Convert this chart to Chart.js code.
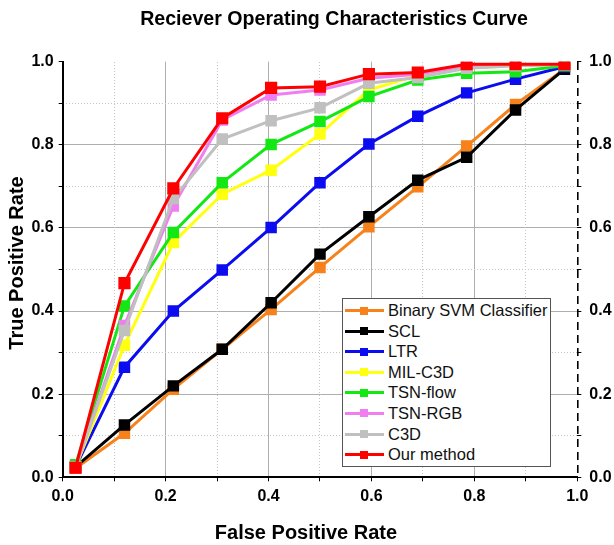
<!DOCTYPE html>
<html>
<head>
<meta charset="utf-8">
<script src="https://cdn.jsdelivr.net/npm/chart.js@4.4.1/dist/chart.umd.min.js"></script>
<style>
  html, body { margin: 0; padding: 0; background: #fff; }
  #wrap { position: relative; width: 614px; height: 545px; }
  #c { position: absolute; left: 0; top: 0; }
  #legend {
    position: absolute; left: 342px; top: 298px; width: 207px; height: 166px;
    border: 1px solid #555; background: #fff; box-sizing: content-box;
    font-family: "Liberation Sans", Arial, sans-serif; font-size: 16.5px; color: #111;
    padding-top: 1px;
  }
  .row { position: relative; height: 20.6px; line-height: 20.6px; }
  .row .ln { position: absolute; left: 1.5px; width: 39px; height: 3px; top: 9px; }
  .row .mk { position: absolute; left: 16.5px; width: 8px; height: 8px; top: 6.5px; }
  .row .tx { position: absolute; left: 45px; top: 0; white-space: nowrap; }
</style>
</head>
<body>
<div id="wrap">
  <canvas id="c" width="614" height="545"></canvas>
  <div id="legend"></div>
</div>
<script>
// ---- data ----
const fpr = [0.025, 0.12, 0.215, 0.31, 0.405, 0.5, 0.595, 0.69, 0.785, 0.88, 0.975];
const seriesNames = ["Binary SVM Classifier", "SCL", "LTR", "MIL-C3D", "TSN-flow", "TSN-RGB", "C3D", "Our method"];
const svmTPR  = [0.022, 0.106, 0.212, 0.308, 0.404, 0.505, 0.603, 0.699, 0.797, 0.897, 0.982];
const sclTPR  = [0.025, 0.126, 0.220, 0.308, 0.420, 0.537, 0.627, 0.715, 0.770, 0.884, 0.982];
const ltrTPR  = [0.025, 0.265, 0.400, 0.499, 0.601, 0.709, 0.802, 0.869, 0.925, 0.958, 0.988];
const milTPR  = [0.025, 0.318, 0.565, 0.681, 0.739, 0.826, 0.932, 0.967, 0.985, 0.990, 0.993];
const flowTPR = [0.030, 0.412, 0.589, 0.709, 0.801, 0.856, 0.916, 0.956, 0.972, 0.976, 0.990];
const rgbTPR  = [0.025, 0.365, 0.653, 0.860, 0.920, 0.932, 0.960, 0.970, 0.990, 0.992, 0.993];
const c3dTPR  = [0.025, 0.353, 0.671, 0.814, 0.858, 0.889, 0.948, 0.962, 0.984, 0.990, 0.993];
const oursTPR = [0.023, 0.467, 0.695, 0.864, 0.937, 0.940, 0.970, 0.974, 0.994, 0.994, 0.994];
const tickValues = [0, 0.2, 0.4, 0.6, 0.8, 1.0];

const allTPR = [svmTPR, sclTPR, ltrTPR, milTPR, flowTPR, rgbTPR, c3dTPR, oursTPR];
const colors = ["#f7821b", "#000000", "#0c0cf0", "#ffff10", "#14e814", "#f07ef0", "#c0c0c0", "#ff0000"];

const FONT = '"Liberation Sans", Arial, sans-serif';

const datasets = seriesNames.map((name, i) => ({
  label: name,
  data: fpr.map((x, k) => ({ x: x, y: allTPR[i][k] })),
  borderColor: colors[i],
  backgroundColor: colors[i],
  pointBackgroundColor: colors[i],
  pointBorderColor: colors[i],
  pointStyle: 'rect',
  pointRadius: i === 7 ? 6.5 : 6,
  borderWidth: 3,
  tension: 0,
  order: seriesNames.length - i
}));

const tenth = v => Math.round(v * 10);
const isMajor = v => tenth(v) % 2 === 0;
const labelCb = v => tickValues.some(t => Math.abs(t - v) < 1e-6) ? Number(v).toFixed(1) : '';

const titlesPlugin = {
  id: 'titles',
  afterDraw(chart) {
    const ctx = chart.ctx;
    ctx.save();
    ctx.fillStyle = '#000';
    ctx.textAlign = 'center';
    ctx.textBaseline = 'middle';
    ctx.font = 'bold 19.6px ' + FONT;
    ctx.fillText('Reciever Operating Characteristics Curve', 334, 20);
    ctx.font = 'bold 20px ' + FONT;
    ctx.fillText('False Positive Rate', 306, 533);
    ctx.translate(17, 263);
    ctx.rotate(-Math.PI / 2);
    ctx.fillText('True Positive Rate', 0, 0);
    ctx.restore();
  }
};

const tickFont = { family: FONT, size: 16, weight: 'bold' };

new Chart(document.getElementById('c'), {
  type: 'line',
  data: { datasets },
  plugins: [titlesPlugin],
  options: {
    responsive: false,
    animation: false,
    devicePixelRatio: 1,
    layout: { padding: { top: 61.7, left: 0, right: 0, bottom: 0 } },
    plugins: { legend: { display: false }, tooltip: { enabled: false }, title: { display: false } },
    scales: {
      x: {
        type: 'linear', position: 'bottom', min: 0, max: 1,
        ticks: { stepSize: 0.1, callback: labelCb, font: tickFont, color: '#000', padding: 6, maxRotation: 0, autoSkip: false },
        grid: {
          color: c => (isMajor(c.tick.value) && tenth(c.tick.value) !== 0 && tenth(c.tick.value) !== 10) ? '#aeaeae' : 'rgba(0,0,0,0)',
          tickColor: '#000', tickLength: 4, lineWidth: 1
        },
        border: { color: '#000', width: 2 },
        afterFit: s => { s.height = 545 - 477.3; }
      },
      y: {
        type: 'linear', position: 'left', min: 0, max: 1,
        ticks: { stepSize: 0.1, callback: labelCb, font: tickFont, color: '#000', padding: 5, autoSkip: false },
        grid: {
          color: c => (isMajor(c.tick.value) && tenth(c.tick.value) !== 0 && tenth(c.tick.value) !== 10) ? '#aeaeae' : 'rgba(0,0,0,0)',
          tickColor: '#000', tickLength: 4, lineWidth: 1
        },
        border: { color: '#000', width: 2 },
        afterFit: s => { s.width = 62.7; }
      },
      yR: {
        type: 'linear', position: 'right', min: 0, max: 1,
        ticks: { stepSize: 0.1, callback: labelCb, font: tickFont, color: '#000', padding: 8, autoSkip: false },
        grid: { drawOnChartArea: false, tickColor: '#000', tickLength: 4, lineWidth: 1 },
        border: { display: false },
        afterFit: s => { s.width = 614 - 577.3; }
      },
      xm: {
        type: 'linear', position: 'top', min: 0, max: 1,
        ticks: { stepSize: 0.1, display: false },
        grid: { color: c => isMajor(c.tick.value) ? 'rgba(0,0,0,0)' : '#c4c4c4', drawTicks: false, lineWidth: 1 },
        border: { display: false, dash: [1, 2] },
        afterFit: s => { s.height = 0; }
      },
      ym: {
        type: 'linear', position: 'left', min: 0, max: 1,
        ticks: { stepSize: 0.1, display: false },
        grid: { color: c => isMajor(c.tick.value) ? 'rgba(0,0,0,0)' : '#c4c4c4', drawTicks: false, lineWidth: 1 },
        border: { display: false, dash: [1, 2] },
        afterFit: s => { s.width = 0; }
      },
      xd: {
        type: 'linear', position: 'top', min: 0, max: 1,
        ticks: { stepSize: 0.5, display: false },
        grid: { color: c => tenth(c.tick.value) === 10 ? '#000' : 'rgba(0,0,0,0)', drawTicks: false, lineWidth: 1.6 },
        border: { display: false, dash: [8, 5] },
        afterFit: s => { s.height = 0; }
      }
    }
  }
});

// HTML legend built from the same series
const leg = document.getElementById('legend');
seriesNames.forEach((name, i) => {
  const row = document.createElement('div');
  row.className = 'row';
  row.innerHTML = '<span class="ln" style="background:' + colors[i] + '"></span>' +
                  '<span class="mk" style="background:' + colors[i] + '"></span>' +
                  '<span class="tx"></span>';
  row.querySelector('.tx').textContent = name;
  leg.appendChild(row);
});
</script>
</body>
</html>
